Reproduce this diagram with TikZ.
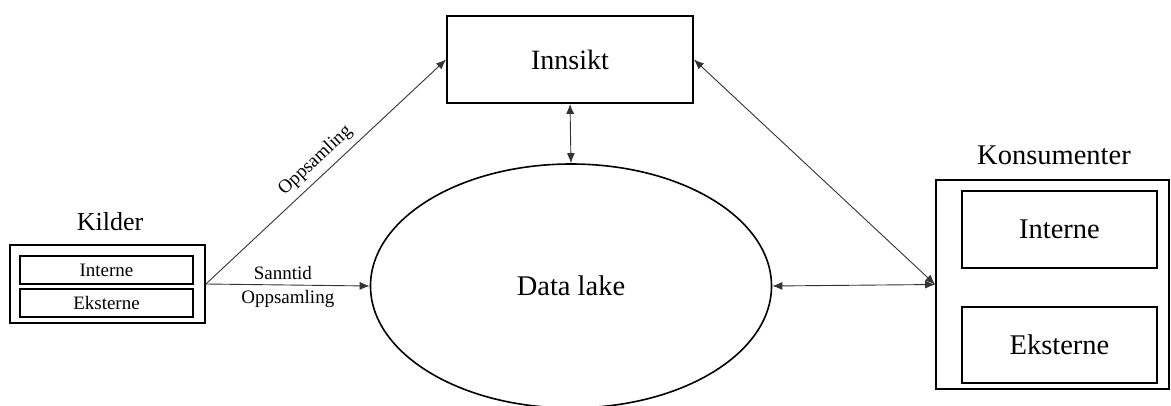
\documentclass[tikz,border=0pt]{standalone}
\usepackage{fontspec}
\setmainfont{Liberation Serif}
\usetikzlibrary{shapes.geometric,arrows.meta}
\tikzset{
  box/.style={draw=black, line width=1.8pt, inner sep=0pt},
  inbox/.style={draw=black, line width=1.6pt, inner sep=0pt},
  conn/.style={draw=black!80, line width=0.9pt},
  tip/.style={-{Latex[length=10pt,width=8pt]}},
  bigtxt/.style={font=\fontsize{28.5}{33}\selectfont},
  smalltxt/.style={font=\fontsize{19}{22}\selectfont},
}
\begin{document}
\begin{tikzpicture}[x=1pt,y=-1pt]
\useasboundingbox (0,0) rectangle (1171,405);
% Innsikt
\node[box, minimum width=246pt, minimum height=87pt, font=\fontsize{28}{33}\selectfont] (innsikt) at (570,59.5) {Innsikt};
% Data lake
\node[ellipse, draw=black, line width=1.6pt, minimum width=401pt, minimum height=244pt, inner sep=0pt, bigtxt] (lake) at (571,286) {Data lake};
% Kilder
\node[box, minimum width=195pt, minimum height=78pt] (kilder) at (107.5,284) {};
\node[inbox, minimum width=173pt, minimum height=28pt, smalltxt] (kint) at (106.5,270) {Interne};
\node[inbox, minimum width=173pt, minimum height=28pt, smalltxt] (kext) at (106.5,303) {Eksterne};
\node[font=\fontsize{26}{30}\selectfont] (kildertxt) at (110,222) {Kilder};
% Konsumenter
\node[box, minimum width=233pt, minimum height=209pt] (kons) at (1052.5,284.5) {};
\node[inbox, minimum width=195pt, minimum height=77pt, bigtxt] (cint) at (1059.5,229.5) {Interne};
\node[inbox, minimum width=195pt, minimum height=76pt, bigtxt] (cext) at (1059.5,345) {Eksterne};
\node[bigtxt] (konstxt) at (1054,155) {Konsumenter};
% connectors
\draw[conn, tip] (kilder.east) -- (lake.west)
  node[pos=0.47, above=1pt, smalltxt] (lbl1) {Sanntid}
  node[pos=0.5, below=2pt, smalltxt] (lbl2) {Oppsamling};
\draw[conn, tip] (kilder.east) -- (innsikt.west)
  node[pos=0.5, sloped, above=3pt, smalltxt] (lbl3) {Oppsamling};
\draw[conn, {Latex[length=10pt,width=8pt]}-{Latex[length=10pt,width=8pt]}] (innsikt.south) -- (lake.north);
\draw[conn, {Latex[length=10pt,width=8pt]}-{Latex[length=10pt,width=8pt]}] (innsikt.east) -- (kons.west);
\draw[conn, {Latex[length=10pt,width=8pt]}-{Latex[length=10pt,width=8pt]}] (lake.east) -- (kons.west);
\end{tikzpicture}
\end{document}
